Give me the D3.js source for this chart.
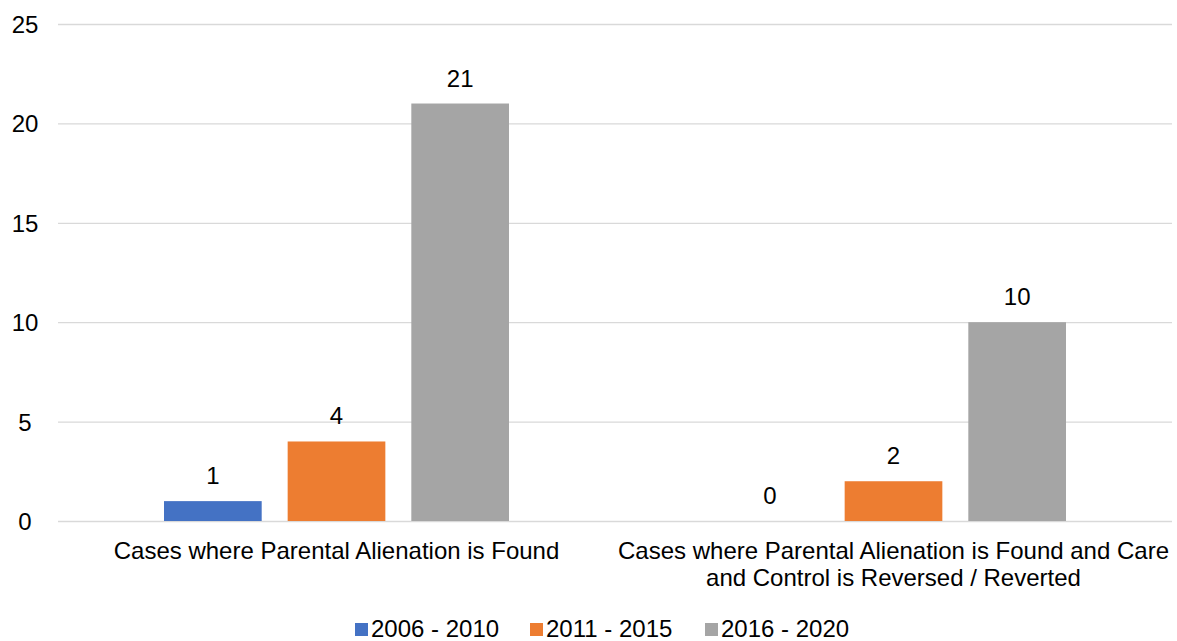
<!DOCTYPE html>
<html><head><meta charset="utf-8">
<script src="https://cdn.jsdelivr.net/npm/d3@7"></script>
<style>body{margin:0;background:#fff}svg{display:block}text{font-family:"Liberation Sans",Arial,sans-serif;fill:#000}</style>
</head><body><svg id="c" width="1177" height="641"></svg>
<script>
const categories = [["Cases where Parental Alienation is Found"],["Cases where Parental Alienation is Found and Care","and Control is Reversed / Reverted"]];
const seriesNames = ["2006 - 2010","2011 - 2015","2016 - 2020"];
const seriesColors = ["#4472C4","#ED7D31","#A5A5A5"];
const values = [[1,0],[4,2],[21,10]];
const yTicks = [0,5,10,15,20,25];

(function(){
const svg = d3.select("#c");
const pL = 58, pR = 1172, pT = 24, pB = 521;
const fs = 24;
const x0 = d3.scaleBand().domain(d3.range(categories.length)).range([pL,pR]);
const x1 = d3.scaleBand().domain(d3.range(seriesNames.length)).range([106, x0.bandwidth()-106]).paddingInner(0.21);
const y = d3.scaleLinear().domain([0,25]).range([pB, pT]);

const yAxis = svg.append("g").attr("transform",`translate(${pL},0)`)
  .call(d3.axisLeft(y).tickValues(yTicks).tickSize(-(pR-pL)).tickPadding(20));
yAxis.select(".domain").remove();
yAxis.selectAll(".tick line").attr("stroke","#D9D9D9").attr("stroke-width",1.3);
yAxis.selectAll(".tick text").attr("font-size",fs).attr("text-anchor","middle").attr("x",-33).attr("dy","0.35em");

const g = svg.append("g");
categories.forEach((cat,ci)=>{
  seriesNames.forEach((s,si)=>{
    const v = values[si][ci];
    const bx = x0(ci)+x1(si);
    g.append("rect").attr("x",bx).attr("width",x1.bandwidth())
      .attr("y",y(v)).attr("height",y(0)-y(v)).attr("fill",seriesColors[si]);
    g.append("text").attr("x",bx+x1.bandwidth()/2).attr("y",y(v)-17)
      .attr("text-anchor","middle").attr("font-size",fs).text(v);
  });
  const t = g.append("text").attr("text-anchor","middle").attr("font-size",fs);
  cat.forEach((line,li)=>{
    t.append("tspan").attr("x",x0(ci)+x0.bandwidth()/2).attr("y",559+li*27).text(line);
  });
});

const lx = [355,530,705];
seriesNames.forEach((s,si)=>{
  svg.append("rect").attr("x",lx[si]).attr("y",623).attr("width",13).attr("height",13).attr("fill",seriesColors[si]);
  svg.append("text").attr("x",lx[si]+16).attr("y",637).attr("font-size",fs).text(s);
});
})();
</script></body></html>
